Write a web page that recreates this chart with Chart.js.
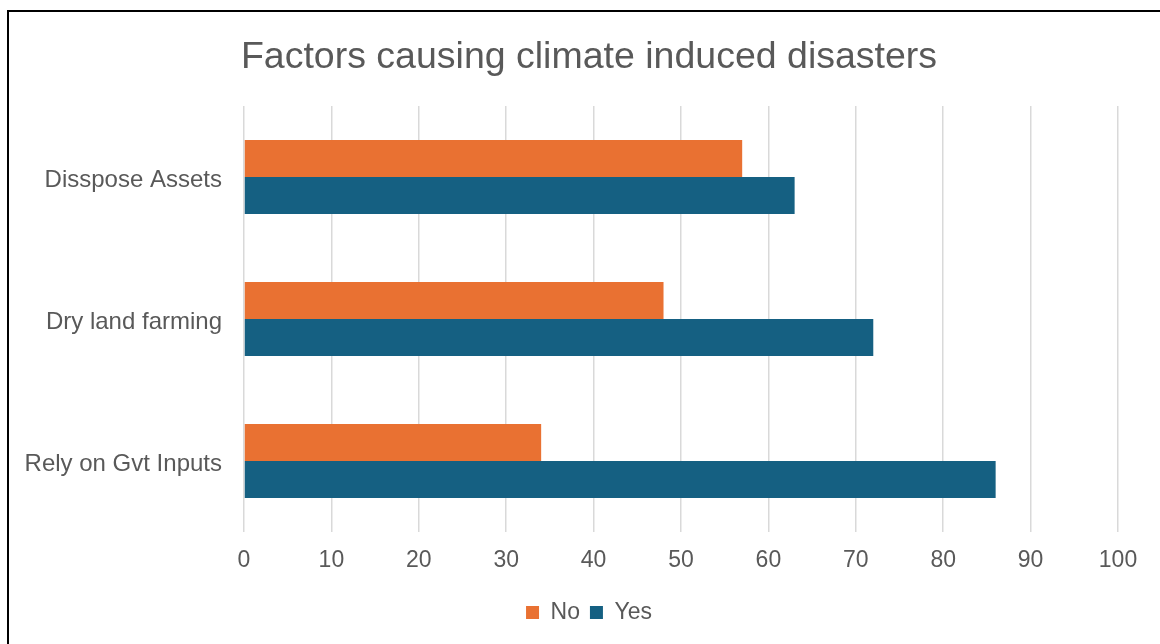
<!DOCTYPE html>
<html>
<head>
<meta charset="utf-8">
<script src="https://cdn.jsdelivr.net/npm/chart.js@4.4.1/dist/chart.umd.min.js"></script>
<style>
  html, body { margin: 0; padding: 0; background: #ffffff; overflow: hidden; }
  #wrap { position: relative; width: 1160px; height: 644px; }
  #frame { position: absolute; left: 7px; top: 10px; width: 1200px; height: 700px;
           border: 2px solid #000; box-sizing: border-box; pointer-events: none; }
  canvas { position: absolute; left: 0; top: 0; }
</style>
</head>
<body>
<div id="wrap">
  <canvas id="chart" width="1160" height="644"></canvas>
  <div id="frame"></div>
</div>
<script>
// Survey responses per factor
const categories = ['Disspose Assets', 'Dry land farming', 'Rely on Gvt Inputs'];
const noValues = [57, 48, 34];
const yesValues = [63, 72, 86];
const seriesNames = ['No', 'Yes'];
const seriesColors = ['#E97132', '#156082'];

const textColor = '#595959';
const fontFamily = '"Liberation Sans", Arial, sans-serif';

// Let the category label column run out to the frame edge while the
// title and legend stay centred on the wider layout box.
const labelColumn = {
  id: 'labelColumn',
  afterLayout(chart) {
    const y = chart.scales.y;
    y.left = 10;
    y.width = y.right - y.left;
  }
};

new Chart(document.getElementById('chart'), {
  type: 'bar',
  data: {
    labels: categories,
    datasets: [
      { label: seriesNames[0], data: noValues, backgroundColor: seriesColors[0] },
      { label: seriesNames[1], data: yesValues, backgroundColor: seriesColors[1] }
    ]
  },
  plugins: [labelColumn],
  options: {
    indexAxis: 'y',
    responsive: false,
    animation: false,
    devicePixelRatio: 1,
    layout: { padding: { left: 60, right: 42, top: 0, bottom: 10 } },
    datasets: { bar: { categoryPercentage: 0.52, barPercentage: 1.0 } },
    plugins: {
      title: {
        display: true,
        text: 'Factors causing climate induced disasters',
        color: textColor,
        font: { family: fontFamily, size: 37.5, weight: 'normal' },
        padding: { top: 35, bottom: 26 }
      },
      legend: {
        position: 'bottom',
        labels: {
          color: textColor,
          font: { family: fontFamily, size: 23 },
          boxWidth: 13,
          boxHeight: 13,
          padding: 10
        }
      },
      tooltip: { enabled: false }
    },
    scales: {
      x: {
        min: 0,
        max: 100,
        ticks: {
          stepSize: 10,
          color: textColor,
          font: { family: fontFamily, size: 23 },
          padding: 15
        },
        grid: { color: '#D9D9D9', lineWidth: 1.5, drawTicks: false },
        border: { display: false },
        afterFit: (scale) => { scale.height = 59; }
      },
      y: {
        ticks: {
          color: textColor,
          font: { family: fontFamily, size: 24 },
          padding: 22,
          labelOffset: 3
        },
        grid: { display: false, drawTicks: false },
        border: { display: false },
        afterFit: (scale) => { scale.width = 184; }
      }
    }
  }
});
</script>
</body>
</html>
